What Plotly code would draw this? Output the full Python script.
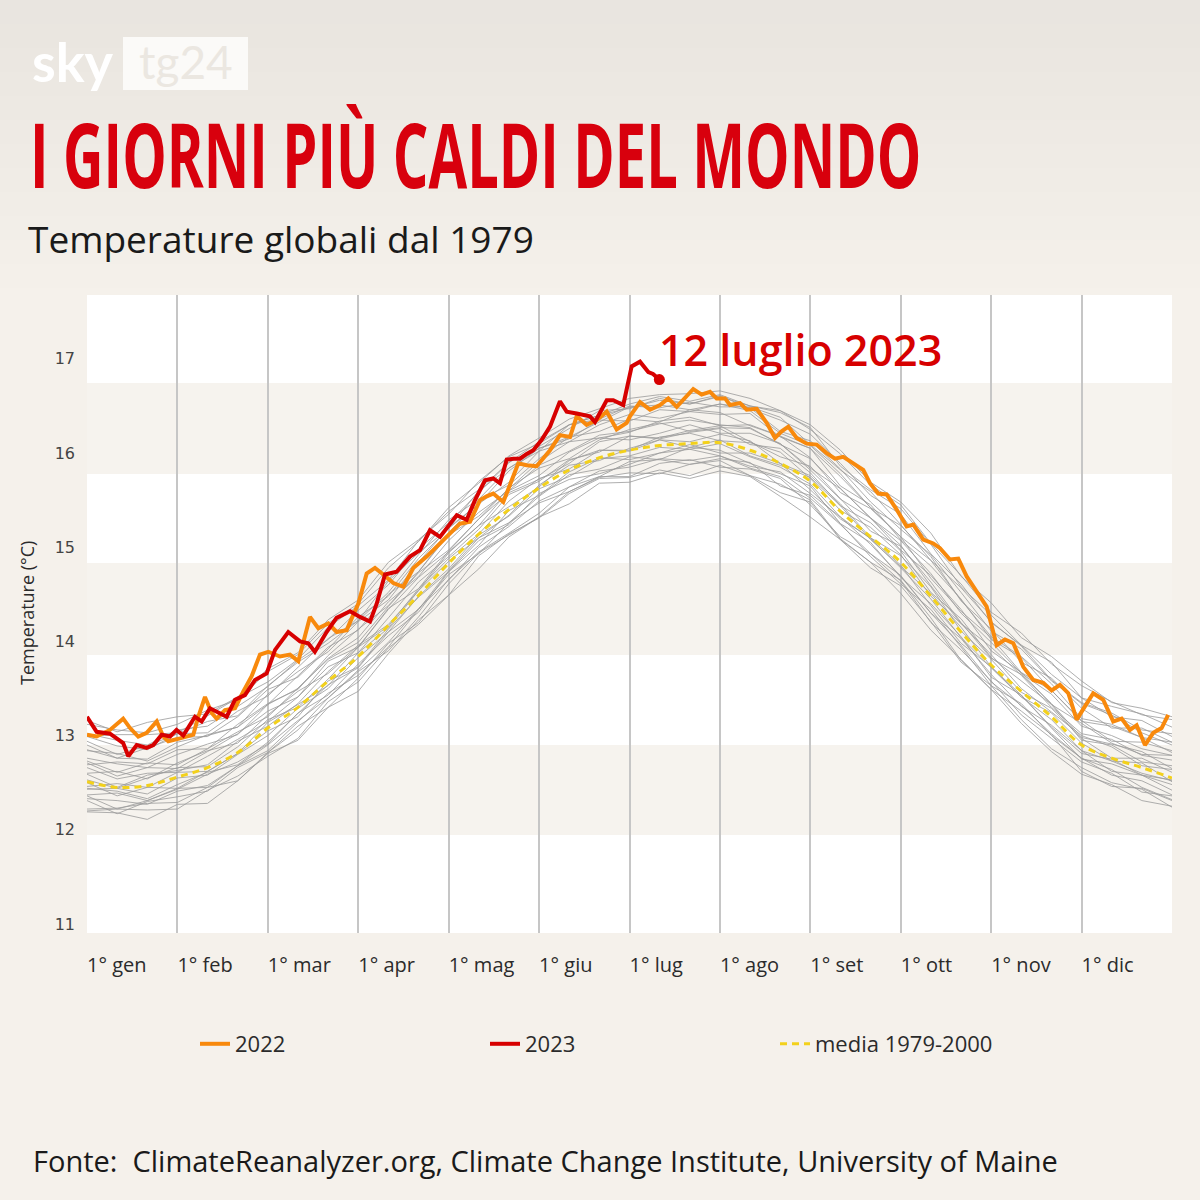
import plotly.graph_objects as go

# ---------------- DATA ----------------
MONTH_POS = [0, 1, 2, 3, 4, 5, 6, 7, 8, 9, 10, 11, 12]
MONTH_LABELS = ["1° gen", "1° feb", "1° mar", "1° apr", "1° mag", "1° giu",
                "1° lug", "1° ago", "1° set", "1° ott", "1° nov", "1° dic", ""]
Y_TICKS = [11, 12, 13, 14, 15, 16, 17]

# shared x grid (in months) for the gray yearly lines and the mean
GRID_X = [0, 0.333, 0.667, 1, 1.333, 1.667, 2, 2.333, 2.667, 3, 3.333, 3.667,
          4, 4.333, 4.667, 5, 5.333, 5.667, 6, 6.333, 6.667, 7, 7.333, 7.667,
          8, 8.333, 8.667, 9, 9.333, 9.667, 10, 10.333, 10.667, 11, 11.333, 11.667, 12]

MEAN_1979_2000 = [12.51, 12.45, 12.47, 12.56, 12.66, 12.82, 13.08, 13.30, 13.58, 13.84, 14.17, 14.49,
                  14.83, 15.14, 15.40, 15.63, 15.82, 15.95, 16.03, 16.08, 16.10, 16.11, 16.03, 15.89,
                  15.70, 15.38, 15.11, 14.84, 14.48, 14.10, 13.75, 13.47, 13.20, 12.90, 12.76, 12.66, 12.55]

GRAY_A = [12.19, 12.18, 12.11, 12.27, 12.28, 12.52, 12.81, 12.95, 13.30, 13.47, 13.87, 14.23, 14.49, 14.77, 15.11, 15.32, 15.46, 15.68, 15.69, 15.79, 15.73, 15.81, 15.75, 15.54, 15.32, 15.08, 14.84, 14.51, 14.12, 13.81, 13.49, 13.13, 12.83, 12.59, 12.48, 12.31, 12.25]
GRAY_B = [12.22, 12.23, 12.28, 12.29, 12.45, 12.52, 12.82, 13.10, 13.30, 13.61, 13.98, 14.20, 14.61, 14.94, 15.13, 15.32, 15.59, 15.74, 15.79, 15.78, 15.88, 15.92, 15.76, 15.67, 15.50, 15.09, 14.84, 14.65, 14.25, 13.80, 13.49, 13.26, 13.01, 12.62, 12.46, 12.44, 12.31]
GRAY_C = [12.36, 12.22, 12.31, 12.44, 12.45, 12.68, 12.84, 13.14, 13.45, 13.64, 13.94, 14.34, 14.71, 14.93, 15.26, 15.47, 15.59, 15.75, 15.91, 15.93, 15.88, 15.94, 15.90, 15.65, 15.55, 15.25, 14.90, 14.61, 14.34, 13.94, 13.53, 13.34, 13.00, 12.76, 12.64, 12.45, 12.32]
GRAY_D = [12.37, 12.39, 12.31, 12.43, 12.59, 12.72, 12.91, 13.24, 13.43, 13.76, 14.06, 14.31, 14.74, 15.07, 15.24, 15.57, 15.72, 15.78, 15.88, 16.00, 16.04, 15.97, 15.86, 15.80, 15.57, 15.32, 15.03, 14.69, 14.30, 14.03, 13.65, 13.31, 13.11, 12.84, 12.62, 12.58, 12.48]
GRAY_E = [12.50, 12.36, 12.45, 12.44, 12.62, 12.81, 13.05, 13.20, 13.58, 13.73, 14.13, 14.47, 14.74, 15.02, 15.39, 15.55, 15.80, 15.95, 15.93, 16.00, 16.09, 16.00, 16.00, 15.89, 15.61, 15.30, 15.10, 14.81, 14.38, 13.98, 13.73, 13.43, 13.09, 12.81, 12.75, 12.58, 12.53]
GRAY_F = [12.46, 12.49, 12.45, 12.61, 12.62, 12.81, 13.14, 13.33, 13.53, 13.88, 14.14, 14.54, 14.85, 15.10, 15.34, 15.66, 15.87, 15.92, 16.05, 16.14, 16.06, 16.14, 15.97, 15.87, 15.74, 15.44, 15.08, 14.79, 14.51, 14.15, 13.73, 13.41, 13.24, 12.92, 12.73, 12.71, 12.51]
GRAY_G = [12.59, 12.45, 12.58, 12.63, 12.69, 12.94, 13.10, 13.34, 13.68, 13.96, 14.18, 14.54, 14.94, 15.23, 15.43, 15.64, 15.92, 16.03, 16.03, 16.17, 16.21, 16.13, 16.11, 16.01, 15.73, 15.39, 15.21, 14.92, 14.48, 14.19, 13.86, 13.50, 13.25, 13.00, 12.88, 12.68, 12.64]
GRAY_H = [12.60, 12.62, 12.54, 12.71, 12.84, 12.92, 13.22, 13.47, 13.66, 13.94, 14.35, 14.56, 14.96, 15.30, 15.58, 15.72, 15.89, 16.12, 16.18, 16.16, 16.24, 16.29, 16.12, 15.96, 15.86, 15.52, 15.17, 15.01, 14.63, 14.20, 13.82, 13.65, 13.34, 12.98, 12.91, 12.83, 12.65]
GRAY_I = [12.73, 12.61, 12.71, 12.69, 12.86, 13.04, 13.20, 13.51, 13.81, 13.99, 14.37, 14.73, 14.97, 15.30, 15.63, 15.84, 15.94, 16.14, 16.25, 16.32, 16.23, 16.27, 16.26, 16.10, 15.84, 15.62, 15.31, 14.97, 14.70, 14.34, 13.90, 13.67, 13.33, 13.13, 12.92, 12.80, 12.79]
GRAY_J = [12.69, 12.72, 12.70, 12.85, 12.86, 13.12, 13.34, 13.49, 13.85, 14.13, 14.38, 14.74, 15.13, 15.33, 15.62, 15.91, 16.12, 16.16, 16.22, 16.34, 16.38, 16.29, 16.30, 16.18, 15.95, 15.58, 15.41, 15.11, 14.67, 14.32, 14.04, 13.67, 13.48, 13.16, 12.94, 12.93, 12.84]
GRAY_K = [12.84, 12.81, 12.73, 12.88, 13.01, 13.09, 13.33, 13.64, 13.94, 14.12, 14.50, 14.74, 15.15, 15.50, 15.66, 15.94, 16.17, 16.23, 16.36, 16.33, 16.46, 16.43, 16.29, 16.18, 16.05, 15.65, 15.45, 15.08, 14.80, 14.45, 14.02, 13.83, 13.48, 13.15, 13.10, 12.98, 12.82]
GRAY_L = [12.85, 12.76, 12.87, 12.98, 12.99, 13.20, 13.49, 13.62, 13.92, 14.26, 14.48, 14.88, 15.20, 15.46, 15.81, 16.05, 16.15, 16.35, 16.34, 16.46, 16.44, 16.52, 16.45, 16.21, 16.08, 15.78, 15.42, 15.23, 14.90, 14.43, 14.13, 13.78, 13.61, 13.29, 13.08, 13.08, 12.93]
GRAY_M = [12.99, 12.89, 12.85, 13.02, 13.15, 13.21, 13.53, 13.78, 13.98, 14.22, 14.64, 14.94, 15.20, 15.60, 15.84, 16.02, 16.30, 16.36, 16.50, 16.48, 16.54, 16.49, 16.49, 16.38, 16.09, 15.82, 15.59, 15.24, 14.86, 14.57, 14.21, 13.95, 13.59, 13.35, 13.24, 13.06, 13.02]
GRAY_N = [12.99, 13.01, 13.01, 13.03, 13.21, 13.40, 13.57, 13.81, 14.15, 14.38, 14.65, 15.07, 15.38, 15.61, 15.90, 16.12, 16.30, 16.40, 16.52, 16.60, 16.55, 16.62, 16.50, 16.43, 16.27, 15.86, 15.61, 15.41, 15.03, 14.58, 14.28, 13.96, 13.78, 13.40, 13.31, 13.23, 13.09]
GRAY_O = [13.16, 13.04, 13.14, 13.20, 13.23, 13.41, 13.71, 13.88, 14.23, 14.44, 14.84, 15.08, 15.35, 15.70, 15.96, 16.10, 16.30, 16.40, 16.48, 16.56, 16.52, 16.60, 16.50, 16.45, 16.30, 16.03, 15.69, 15.48, 15.15, 14.69, 14.41, 14.04, 13.84, 13.58, 13.35, 13.29, 13.20]
GRAY_P = [12.31, 12.17, 12.30, 12.35, 12.41, 12.66, 12.82, 13.06, 13.40, 13.68, 13.90, 14.26, 14.66, 14.95, 15.15, 15.36, 15.64, 15.75, 15.75, 15.89, 15.93, 15.85, 15.83, 15.73, 15.45, 15.11, 14.93, 14.64, 14.20, 13.91, 13.58, 13.22, 12.97, 12.72, 12.60, 12.40, 12.36]
GRAY_Q = [12.53, 12.44, 12.55, 12.66, 12.67, 12.88, 13.17, 13.30, 13.60, 13.94, 14.16, 14.56, 14.88, 15.14, 15.49, 15.73, 15.83, 16.03, 16.02, 16.14, 16.12, 16.20, 16.13, 15.89, 15.76, 15.46, 15.10, 14.91, 14.58, 14.11, 13.81, 13.46, 13.29, 12.97, 12.76, 12.76, 12.61]
GRAY_R = [12.94, 12.80, 12.89, 13.02, 13.03, 13.26, 13.42, 13.72, 14.03, 14.22, 14.52, 14.92, 15.29, 15.51, 15.84, 16.05, 16.17, 16.33, 16.49, 16.51, 16.46, 16.52, 16.48, 16.23, 16.13, 15.83, 15.48, 15.19, 14.92, 14.52, 14.11, 13.92, 13.58, 13.34, 13.22, 13.03, 12.90]
GRAY_S = [12.71, 12.57, 12.66, 12.65, 12.83, 13.02, 13.26, 13.41, 13.79, 13.94, 14.34, 14.68, 14.95, 15.23, 15.60, 15.76, 16.01, 16.16, 16.14, 16.21, 16.30, 16.21, 16.21, 16.10, 15.82, 15.51, 15.31, 15.02, 14.59, 14.19, 13.94, 13.64, 13.30, 13.02, 12.96, 12.79, 12.74]
GRAY_T = [12.44, 12.41, 12.33, 12.48, 12.61, 12.69, 12.93, 13.24, 13.54, 13.72, 14.10, 14.34, 14.75, 15.10, 15.26, 15.54, 15.77, 15.83, 15.96, 15.93, 16.06, 16.03, 15.89, 15.78, 15.65, 15.25, 15.05, 14.68, 14.40, 14.05, 13.62, 13.43, 13.08, 12.75, 12.70, 12.58, 12.42]
GRAY_U = [12.90, 12.76, 12.75, 12.93, 13.00, 13.09, 13.44, 13.68, 13.89, 14.21, 14.44, 14.84, 15.21, 15.46, 15.69, 16.02, 16.12, 16.30, 16.41, 16.37, 16.44, 16.41, 16.42, 16.17, 16.05, 15.75, 15.42, 15.11, 14.86, 14.44, 14.05, 13.84, 13.55, 13.18, 13.12, 12.98, 12.93]
GRAY_V = [12.20, 12.22, 12.21, 12.22, 12.42, 12.57, 12.78, 12.97, 13.36, 13.57, 13.93, 14.18, 14.49, 14.91, 15.14, 15.31, 15.57, 15.73, 15.74, 15.82, 15.76, 15.87, 15.76, 15.58, 15.48, 15.08, 14.78, 14.59, 14.21, 13.78, 13.53, 13.17, 12.86, 12.66, 12.50, 12.43, 12.24]
GRAY_W = [12.66, 12.54, 12.60, 12.61, 12.78, 12.96, 13.15, 13.41, 13.73, 13.88, 14.25, 14.63, 14.90, 15.19, 15.56, 15.70, 15.93, 16.01, 16.18, 16.15, 16.22, 16.26, 16.09, 16.05, 15.79, 15.44, 15.26, 14.96, 14.52, 14.24, 13.83, 13.58, 13.33, 12.95, 12.90, 12.72, 12.68]
GRAY_X = [13.02, 12.95, 12.90, 13.06, 13.10, 13.31, 13.52, 13.80, 14.02, 14.33, 14.60, 14.98, 15.26, 15.58, 15.90, 16.07, 16.26, 16.45, 16.47, 16.58, 16.52, 16.61, 16.47, 16.35, 16.20, 15.89, 15.55, 15.35, 14.93, 14.61, 14.20, 13.96, 13.65, 13.40, 13.20, 13.16, 12.99]
GRAY_Y = [12.43, 12.44, 12.38, 12.55, 12.58, 12.80, 13.00, 13.29, 13.50, 13.83, 14.10, 14.48, 14.77, 15.13, 15.33, 15.62, 15.75, 15.94, 15.97, 16.06, 16.04, 16.10, 15.96, 15.85, 15.67, 15.32, 15.09, 14.78, 14.45, 14.04, 13.72, 13.41, 13.17, 12.84, 12.73, 12.60, 12.52]
GRAY_Z = [12.76, 12.70, 12.66, 12.80, 12.91, 13.01, 13.33, 13.50, 13.82, 14.04, 14.42, 14.69, 15.07, 15.37, 15.60, 15.87, 16.02, 16.19, 16.23, 16.31, 16.35, 16.30, 16.27, 16.09, 15.94, 15.62, 15.31, 15.07, 14.72, 14.30, 13.99, 13.66, 13.44, 13.10, 13.00, 12.86, 12.79]
GRAY_AA = [12.33, 12.31, 12.27, 12.41, 12.47, 12.68, 12.90, 13.16, 13.40, 13.70, 13.99, 14.35, 14.65, 15.00, 15.22, 15.49, 15.64, 15.81, 15.85, 15.94, 15.92, 15.97, 15.84, 15.75, 15.52, 15.24, 14.93, 14.70, 14.30, 13.96, 13.57, 13.32, 13.02, 12.76, 12.58, 12.52, 12.37]
GRAY_AB = [13.12, 13.06, 13.03, 13.12, 13.27, 13.38, 13.68, 13.86, 14.19, 14.40, 14.78, 15.06, 15.42, 15.68, 15.97, 16.16, 16.36, 16.47, 16.58, 16.62, 16.63, 16.66, 16.58, 16.45, 16.25, 15.99, 15.66, 15.45, 15.04, 14.70, 14.31, 14.09, 13.76, 13.53, 13.36, 13.22, 13.17]

GRAY_LINES = [GRAY_A, GRAY_B, GRAY_C, GRAY_D, GRAY_E, GRAY_F, GRAY_G, GRAY_H, GRAY_I, GRAY_J,
              GRAY_K, GRAY_L, GRAY_M, GRAY_N, GRAY_O, GRAY_P, GRAY_Q, GRAY_R, GRAY_S, GRAY_T,
              GRAY_U, GRAY_V, GRAY_W, GRAY_X, GRAY_Y, GRAY_Z, GRAY_AA, GRAY_AB]

X_2022 = [0, 0.107, 0.254, 0.40, 0.476, 0.567, 0.66, 0.771, 0.844, 0.899, 1.029, 1.176, 1.231, 1.305,
          1.379, 1.434, 1.526, 1.637, 1.729, 1.821, 1.913, 2.005, 2.134, 2.245, 2.337, 2.466, 2.558,
          2.669, 2.762, 2.872, 2.93, 3.0, 3.093, 3.185, 3.277, 3.388, 3.498, 3.609, 3.757, 3.904,
          4.014, 4.125, 4.236, 4.346, 4.42, 4.493, 4.604, 4.715, 4.77, 4.863, 4.973, 5.121, 5.231,
          5.342, 5.416, 5.526, 5.637, 5.748, 5.858, 5.969, 6.005, 6.116, 6.227, 6.338, 6.429, 6.522,
          6.613, 6.705, 6.798, 6.89, 6.964, 7.056, 7.111, 7.222, 7.296, 7.407, 7.517, 7.609, 7.683,
          7.756, 7.849, 7.959, 8.07, 8.18, 8.272, 8.364, 8.475, 8.585, 8.659, 8.751, 8.844, 8.955,
          9.065, 9.139, 9.249, 9.36, 9.434, 9.544, 9.636, 9.729, 9.84, 9.95, 10.061, 10.153, 10.245,
          10.355, 10.466, 10.576, 10.669, 10.761, 10.853, 10.946, 11.037, 11.129, 11.24, 11.35,
          11.443, 11.535, 11.609, 11.701, 11.793, 11.885, 11.958]
Y_2022 = [13.01, 12.99, 13.06, 13.18, 13.08, 12.99, 13.03, 13.15, 12.99, 12.94, 12.97, 13.01, 13.20, 13.41,
          13.24, 13.18, 13.27, 13.29, 13.47, 13.63, 13.86, 13.89, 13.84, 13.86, 13.79, 14.26, 14.14,
          14.19, 14.10, 14.12, 14.25, 14.40, 14.72, 14.78, 14.71, 14.62, 14.58, 14.78, 14.90, 15.04,
          15.15, 15.25, 15.27, 15.50, 15.54, 15.57, 15.48, 15.75, 15.89, 15.87, 15.86, 16.03, 16.19,
          16.17, 16.39, 16.30, 16.35, 16.44, 16.25, 16.32, 16.39, 16.54, 16.46, 16.51, 16.58, 16.49,
          16.58, 16.68, 16.62, 16.65, 16.58, 16.58, 16.51, 16.53, 16.46, 16.47, 16.32, 16.16, 16.23,
          16.28, 16.16, 16.10, 16.09, 16.00, 15.94, 15.96, 15.89, 15.82, 15.68, 15.57, 15.56, 15.40,
          15.22, 15.24, 15.08, 15.04, 14.99, 14.87, 14.88, 14.69, 14.53, 14.37, 13.96, 14.02, 13.98,
          13.73, 13.59, 13.56, 13.48, 13.54, 13.45, 13.17, 13.31, 13.45, 13.38, 13.15,
          13.18, 13.06, 13.11, 12.90, 13.03, 13.08, 13.22]

X_2023 = [0, 0.107, 0.254, 0.40, 0.457, 0.55, 0.66, 0.733, 0.826, 0.918, 0.99, 1.065, 1.194, 1.268,
          1.36, 1.47, 1.545, 1.637, 1.747, 1.858, 1.987, 2.08, 2.226, 2.356, 2.447, 2.52, 2.65, 2.76,
          2.91, 3.019, 3.13, 3.204, 3.296, 3.425, 3.572, 3.683, 3.793, 3.904, 4.014, 4.089, 4.199,
          4.291, 4.402, 4.493, 4.567, 4.642, 4.715, 4.789, 4.863, 4.936, 5.029, 5.121, 5.231, 5.305,
          5.416, 5.489, 5.563, 5.618, 5.748, 5.82, 5.931, 6.024, 6.116, 6.208, 6.26, 6.33]
Y_2023 = [13.20, 13.04, 13.02, 12.92, 12.78, 12.90, 12.87, 12.90, 13.01, 12.99, 13.06, 13.00, 13.20, 13.15,
          13.29, 13.23, 13.20, 13.38, 13.43, 13.59, 13.66, 13.91, 14.10, 14.00, 13.98, 13.89, 14.10, 14.25,
          14.32, 14.26, 14.21, 14.40, 14.71, 14.74, 14.90, 14.97, 15.18, 15.11, 15.25, 15.34, 15.29,
          15.50, 15.71, 15.73, 15.68, 15.93, 15.94, 15.94, 15.99, 16.03, 16.14, 16.28, 16.55, 16.44,
          16.42, 16.40, 16.39, 16.33, 16.56, 16.56, 16.51, 16.92, 16.97, 16.86, 16.84, 16.78]

# ---------------- STYLE ----------------
BG = "#f5f1eb"
BAND = "#f6f3ee"
GRID = "#c6c6c6"
GRAY = "#9c9c9c"
ORANGE = "#f8890c"
RED = "#d70000"
YELLOW = "#f3d11b"
TEXT = "#2b2b2b"
TITLE_RED = "#d8000d"
TITLE_TEXT = "I GIORNI PIÙ CALDI DEL MONDO"

fig = go.Figure()

for ys in GRAY_LINES:
    fig.add_trace(go.Scatter(x=GRID_X, y=ys, mode="lines", showlegend=False, hoverinfo="skip",
                             line=dict(color=GRAY, width=1), opacity=0.8))

fig.add_trace(go.Scatter(x=GRID_X, y=MEAN_1979_2000, mode="lines", name="media 1979-2000",
                         legendrank=3,
                         line=dict(color=YELLOW, width=3, dash="7px,5px", shape="spline", smoothing=1.0)))
fig.add_trace(go.Scatter(x=X_2022, y=Y_2022, mode="lines", name="2022", legendrank=1,
                         line=dict(color=ORANGE, width=4)))
fig.add_trace(go.Scatter(x=X_2023, y=Y_2023, mode="lines", name="2023", legendrank=2,
                         line=dict(color=RED, width=4)))
fig.add_trace(go.Scatter(x=[X_2023[-1]], y=[Y_2023[-1]], mode="markers", showlegend=False,
                         marker=dict(color=RED, size=11)))

W, H = 1200, 1200
ML, MR, MT, MB = 87, 28, 295, 267
PW, PH = W - ML - MR, H - MT - MB


def px_x(px):
    return (px - ML) / PW


def px_y(py):
    return (H - MB - py) / PH


shapes = []
# soft greyish shading at the top of the card (many faint layers -> smooth gradient)
for depth in range(24, 312, 24):
    shapes.append(dict(type="rect", xref="paper", yref="paper", x0=px_x(0), x1=px_x(W),
                       y0=px_y(depth), y1=px_y(0), fillcolor="rgba(214,219,222,0.03)",
                       line=dict(width=0), layer="below"))
for top, bot in [(383, 474), (563, 655), (745, 835)]:
    shapes.append(dict(type="rect", xref="paper", yref="paper", x0=0, x1=1,
                       y0=px_y(bot), y1=px_y(top), fillcolor=BAND, line=dict(width=0), layer="below"))
# logo box
shapes.append(dict(type="rect", xref="paper", yref="paper", x0=px_x(123), x1=px_x(248),
                   y0=px_y(90), y1=px_y(37), fillcolor="#fbfaf8", line=dict(width=0)))

annotations = [
    dict(text="<b>sky</b>", xref="paper", yref="paper", x=px_x(73), y=px_y(62), showarrow=False,
         font=dict(family="Lato, Open Sans, sans-serif", size=54, color="#ffffff"),
         xanchor="center", yanchor="middle"),
    dict(text="tg24", xref="paper", yref="paper", x=px_x(186), y=px_y(62), showarrow=False,
         font=dict(family="Lato, Open Sans, sans-serif", size=46, color="#ebe7e1"),
         xanchor="center", yanchor="middle"),
    dict(text=TITLE_TEXT, xref="paper", yref="paper", align="left",
         x=px_x(28), y=px_y(166), showarrow=False, xanchor="left", yanchor="middle",
         font=dict(family="Open Sans, sans-serif", size=56, color=TITLE_RED, weight=700)),
    dict(text="Temperature globali dal 1979", xref="paper", yref="paper",
         x=px_x(26), y=px_y(238), showarrow=False, xanchor="left", yanchor="middle",
         font=dict(family="Open Sans, sans-serif", size=37, color="#1a1a1a")),
    dict(text="12 luglio 2023", xref="paper", yref="paper",
         x=px_x(657), y=px_y(349), showarrow=False, xanchor="left", yanchor="middle",
         font=dict(family="Open Sans, sans-serif", size=43, color=RED, weight=600)),
    dict(text="Temperature (°C)", xref="paper", yref="paper", textangle=-90,
         x=px_x(27), y=px_y(613), showarrow=False, xanchor="center", yanchor="middle",
         font=dict(family="Open Sans, sans-serif", size=18, color=TEXT)),
    dict(text="Fonte:  ClimateReanalyzer.org, Climate Change Institute, University of Maine",
         xref="paper", yref="paper", x=px_x(31), y=px_y(1160), showarrow=False,
         xanchor="left", yanchor="middle",
         font=dict(family="Open Sans, sans-serif", size=29, color="#1a1a1a")),
]

fig.update_layout(
    width=W, height=H,
    margin=dict(l=ML, r=MR, t=MT, b=MB),
    paper_bgcolor=BG, plot_bgcolor="#ffffff",
    shapes=shapes, annotations=annotations,
    showlegend=True,
    legend=dict(orientation="h", x=px_x(195), y=px_y(1044), xanchor="left", yanchor="middle",
                bgcolor="rgba(0,0,0,0)", entrywidth=245, entrywidthmode="pixels",
                font=dict(family="Open Sans, sans-serif", size=22, color=TEXT),
                traceorder="normal"),
    xaxis=dict(range=[0, 12], tickvals=MONTH_POS, ticktext=MONTH_LABELS,
               showgrid=True, gridcolor=GRID, gridwidth=1.5, zeroline=False, showline=False,
               ticks="", ticklabelstandoff=18,
               ticklabelposition="outside right",
               tickfont=dict(family="Open Sans, sans-serif", size=20, color=TEXT), fixedrange=True),
    yaxis=dict(range=[10.904, 17.678], tickvals=Y_TICKS, showgrid=False, zeroline=False,
               showline=False, ticks="", ticklabelstandoff=11,
               tickfont=dict(family="DejaVu Sans, sans-serif", size=16, color="#444444"),
               fixedrange=True),
)

# stretch the headline glyphs vertically about their baseline
# (the original uses a tall condensed display face)
POST = """
document.body.style.margin='0';
document.querySelectorAll('text.annotation-text').forEach(function(el){
  if (el.textContent.indexOf('I GIORNI') === 0) {
    var y = parseFloat(el.getAttribute('y'));
    if (isNaN(y)) { var b = el.getBBox(); y = b.y + b.height * 0.78; }
    var s = 1.6;
    var prev = el.getAttribute('transform') || '';
    el.setAttribute('transform', prev + ' translate(0,' + (y * (1 - s)) + ') scale(1,' + s + ')');
  }
});
"""

fig.write_html("out.html", post_script=POST, config={"displayModeBar": False})
